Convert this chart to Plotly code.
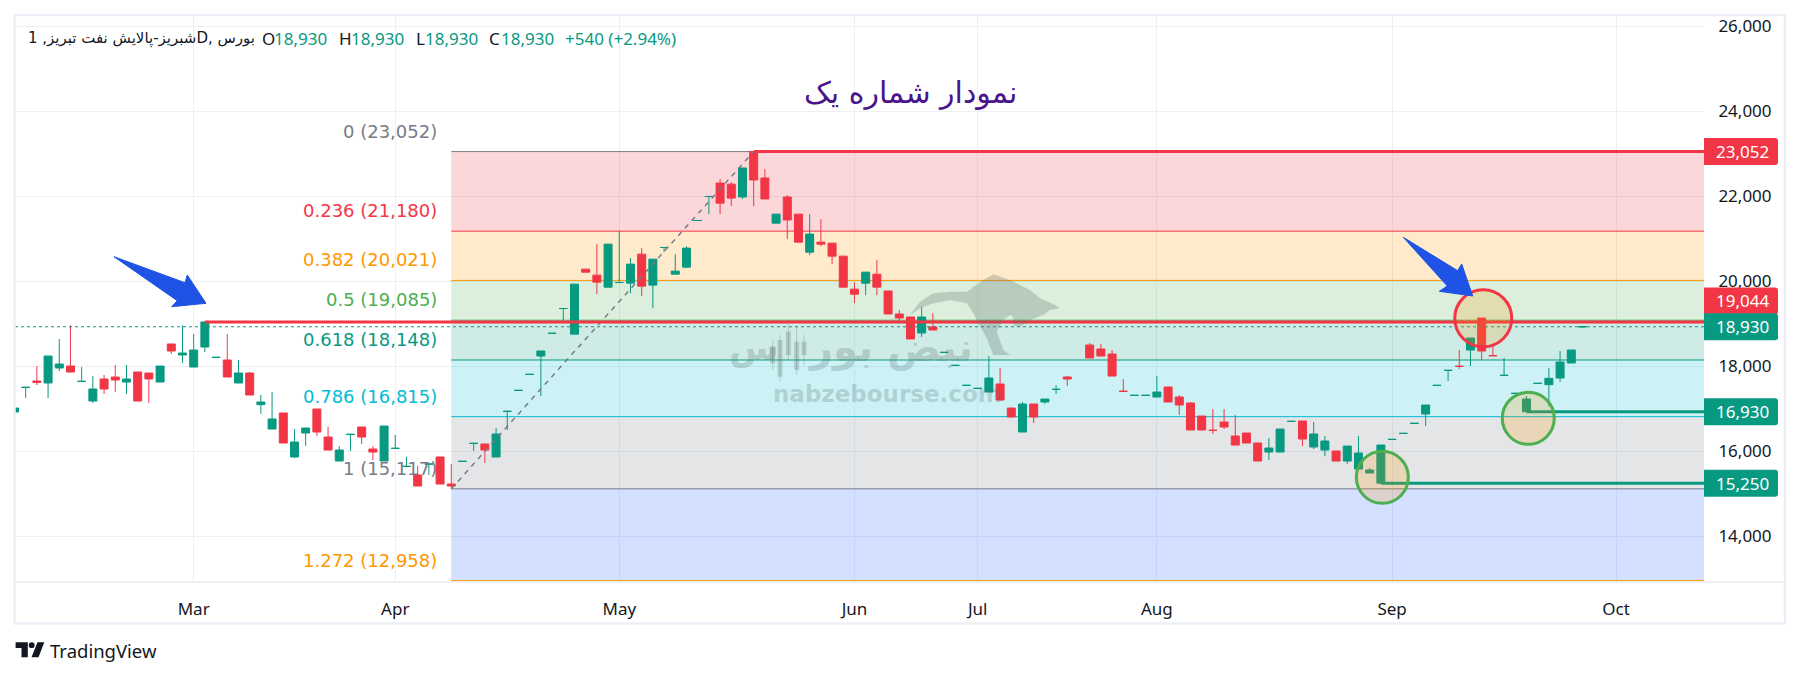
import plotly.graph_objects as go

# ---------- data ----------
opens = [16925,17504,17654,17607,17960,18007,17645,17183,17701,17748,
         17630,17866,17842,17630,18525,18266,17983,18454,18210,18148,
         17607,17842,17097,16525,16901,15866,16430,16995,16336,15772,
         16398,16572,16054,15772,16069,15645,15442,15700,15866,15230,
         15763,16186,16172,15866,16939,17433,17810,18242,18775,19359,
         18757,20286,20145,19862,19971,19957,20639,19910,20795,20168,
         20333,21430,21995,22310,22286,21984,23052,22431,21368,21984,
         21580,20686,20921,20898,20592,19815,19957,20168,19772,19231,
         19160,18784,18925,18327,18021,17551,17480,17395,17583,17018,
         16454,17113,17160,17457,17748,None,18501,18407,18289,17412,
         17316,17316,17277,17513,17277,17136,16830,16494,16689,16360,
         16430,16195,15983,15983,16704,16713,16101,16030,16007,15771,
         15583,15489,15250,16280,16421,16657,16877,17551,17904,18000,
         18383,19136,18251,17786,17363,16930,17598,17568,17724,18077,
         18929]
highs = [17019,17505,18007,18242,18642,18964,17983,17772,17795,18030,
         18030,17866,17842,18007,18525,18964,18760,19044,18211,18760,
         18148,17866,17325,17395,16901,16525,16548,16995,16572,16125,
         16399,16572,16125,16595,16383,15866,15654,15701,15866,15701,
         15764,16187,16172,16548,16940,17434,17811,18360,18776,19360,
         19933,20286,20874,20874,21188,20545,20780,20521,20796,20639,
         20827,21431,21996,22404,22333,22666,23052,22643,21580,22031,
         21580,21580,21462,20898,20592,19980,20215,20498,19772,19325,
         19160,19396,19255,18328,18022,17552,17481,18242,17960,17018,
         17160,17113,17230,17552,17771,None,18548,18524,18383,17701,
         17317,17317,17771,17513,17324,17160,16830,16995,16995,16854,
         16430,16195,16313,16524,16705,16713,16689,16360,16007,16124,
         16360,15607,16148,16281,16422,16658,17089,17552,17905,18383,
         18666,19136,18477,18195,17364,17301,17599,17960,18360,18383,
         18930]
lows = [16925,17254,17560,17254,17889,17866,17645,17136,17348,17395,
        17348,17183,17136,17630,18289,18077,17983,18336,18210,17748,
        17607,17325,16878,16525,16195,15842,16125,16360,16030,15772,
        16007,16172,15795,15772,16069,15645,15183,15442,15230,15117,
        15763,16007,15725,15866,16501,17433,17810,17301,18775,19070,
        18757,20215,19698,19862,19971,19721,19655,19369,20686,20168,
        20309,21430,21580,21580,21768,21937,21768,21937,21368,20992,
        20921,20615,20827,20404,19862,19486,19674,19674,19231,19062,
        18643,18690,18854,18327,18021,17551,17480,17395,17183,16807,
        16454,16665,17113,17348,17536,None,18195,18242,17771,17411,
        17316,17316,17277,17160,16854,16501,16501,16407,16524,16148,
        16195,15771,15795,15983,16704,16124,16054,15889,15771,15701,
        15583,15489,15250,16280,16421,16657,16595,17551,17654,17936,
        18007,18148,18250,17786,17363,16930,17598,17050,17630,18077,
        18929]
closes = [17019,17505,17623,18242,18054,17866,17646,17466,17466,17678,
          17701,17183,17701,18007,18360,18313,18383,19044,18211,17748,
          17842,17325,17160,16760,16195,16219,16548,16454,16030,16030,
          16399,16336,15983,16595,16070,15646,15183,15701,15230,15183,
          15764,16187,16030,16407,16940,17434,17811,18360,18776,19360,
          19933,20215,19980,20874,19972,20404,19886,20521,20796,20239,
          20780,21431,21996,21839,21957,22666,22384,21937,21580,21443,
          20921,21110,20874,20592,19862,19698,20215,19862,19231,19137,
          18643,19160,18854,18328,18022,17552,17481,17724,17207,16807,
          17113,16807,17230,17458,17701,None,18195,18242,17771,17411,
          17317,17317,17395,17160,17089,16501,16501,16493,16571,16148,
          16195,15771,16077,16524,16705,16289,16407,16242,15771,16124,
          15960,15560,16148,16281,16422,16658,17089,17552,17905,17999,
          18666,18360,18250,17787,17364,17230,17599,17717,18101,18383,
          18930]
bars = list(range(len(opens)))

month_labels = ["Mar", "Apr", "May", "Jun", "Jul", "Aug", "Sep", "Oct"]
month_bars = [16, 34, 54, 75, 86, 102, 123, 143]
price_ticks = [14000, 16000, 18000, 20000, 22000, 24000, 26000]

fib_ratios = ["0", "0.236", "0.382", "0.5", "0.618", "0.786", "1", "1.272"]
fib_values = [23052, 21180, 20021, 19085, 18148, 16815, 15117, 12958]
fib_line_colors = ["#787B86", "#F23645", "#FF9800", "#4CAF50", "#089981", "#00BCD4", "#787B86", "#FF9800"]
fib_fills = ["rgba(242,54,69,.2)", "rgba(255,152,0,.2)", "rgba(76,175,80,.2)", "rgba(8,153,129,.2)",
             "rgba(0,188,212,.2)", "rgba(120,123,134,.2)", "rgba(41,98,255,.2)"]
fib_start_bar = 39

ray_values = [23052, 19044, 16930, 15250]
ray_starts = [66, 17, 135, 122]
ray_colors = ["#F23645", "#F23645", "#089981", "#089981"]

axis_label_values = [23052, 19044, 18930, 16930, 15250]
axis_label_colors = ["#F23645", "#F23645", "#089981", "#089981", "#089981"]
axis_label_shift = [0, 21, 0, 0, 0]

circle_bars = [131.14, 135.16, 122.13]
circle_values = [19129, 16776, 15388]
circle_radii = [28.5, 26, 26]
circle_colors = ["#F23645", "#4CAF50", "#4CAF50"]

UP, DOWN = "#089981", "#F23645"
L, R, T, B = 15, 1704, 16, 582


def px(x):
    return (x - L) / (R - L)


def py(y):
    return (B - y) / (B - T)


def poly(points):
    return "M " + " L ".join(f"{px(x):.5f},{py(y):.5f}" for x, y in points) + " Z"


fig = go.Figure()
fig.add_trace(go.Candlestick(
    x=bars, open=opens, high=highs, low=lows, close=closes,
    increasing=dict(line=dict(color=UP, width=1), fillcolor=UP),
    decreasing=dict(line=dict(color=DOWN, width=1), fillcolor=DOWN),
    whiskerwidth=0, hoverinfo="skip", showlegend=False))
fig.add_trace(go.Scatter(
    x=[fib_start_bar, 66], y=[fib_values[-2], fib_values[0]], mode="lines",
    line=dict(color="#787B86", width=1.5, dash="5px,5px"), hoverinfo="skip", showlegend=False))

shapes = []
# fib bands and level lines
for i, col in enumerate(fib_fills):
    shapes.append(dict(type="rect", xref="x", yref="y", layer="between", x0=fib_start_bar, x1=151,
                       y0=fib_values[i], y1=fib_values[i + 1], fillcolor=col, line_width=0))
for v, col in zip(fib_values, fib_line_colors):
    shapes.append(dict(type="line", xref="x", yref="y", layer="between", x0=fib_start_bar, x1=151,
                       y0=v, y1=v, line=dict(color=col, width=1)))
# last price dotted line
shapes.append(dict(type="line", xref="paper", yref="y", x0=0, x1=1, y0=18930, y1=18930,
                   line=dict(color="#089981", width=1, dash="dot")))
# horizontal rays
for v, s, col in zip(ray_values, ray_starts, ray_colors):
    shapes.append(dict(type="line", xref="x", yref="y", x0=s, x1=151, y0=v, y1=v,
                       line=dict(color=col, width=3)))
# circles
for b, v, r, col in zip(circle_bars, circle_values, circle_radii, circle_colors):
    shapes.append(dict(type="circle", xref="x", yref="y", xsizemode="pixel", ysizemode="pixel",
                       xanchor=b, yanchor=v, x0=-r, x1=r, y0=-r, y1=r,
                       fillcolor="rgba(255,152,0,.2)", line=dict(color=col, width=3)))
# blue arrows
arrow_1 = [(114, 256.7), (185, 282.7), (187.3, 275), (206, 303.3), (171.7, 306.7), (177.3, 300.7)]
arrow_2 = [(1403.3, 237.3), (1457.7, 270.7), (1461.7, 264), (1472.7, 296), (1439.3, 291.3), (1447.3, 286)]
for a in (arrow_1, arrow_2):
    shapes.append(dict(type="path", xref="paper", yref="paper", path=poly(a),
                       fillcolor="#1E53E5", line=dict(color="#1E53E5", width=1)))
# watermark: bull
WM = "rgba(90,110,105,.27)"
bull = [(570, 165), (600, 125), (640, 100), (700, 95), (740, 95), (790, 60), (820, 43), (870, 60), (930, 90),
        (960, 115), (1005, 135), (1020, 145), (990, 150), (970, 165), (930, 180), (900, 200), (880, 195),
        (880, 170), (870, 165), (850, 180), (830, 215), (850, 270), (870, 285), (820, 285), (800, 235),
        (770, 180), (760, 160), (740, 130), (690, 120), (640, 130), (600, 145)]
shapes.append(dict(type="path", xref="paper", yref="paper", line_width=0, fillcolor=WM,
                   path=poly([(720 + a / 3, 260 + b / 3) for a, b in bull])))
# watermark: mini candles
for a, t0, b0, t1, b1 in [(158, 240, 330, 262, 310), (180, 225, 365, 240, 350), (205, 190, 300, 215, 285),
                          (230, 200, 345, 245, 330), (252, 225, 315, 245, 285)]:
    x = 720 + a / 3
    shapes.append(dict(type="line", xref="paper", yref="paper", x0=px(x), x1=px(x),
                       y0=py(260 + t0 / 3), y1=py(260 + b0 / 3), line=dict(color=WM, width=1)))
    shapes.append(dict(type="rect", xref="paper", yref="paper", x0=px(x - 2.5), x1=px(x + 2.5),
                       y0=py(260 + t1 / 3), y1=py(260 + b1 / 3), line_width=0, fillcolor=WM))
# axis labels (boxes)
for v, col, s in zip(axis_label_values, axis_label_colors, axis_label_shift):
    shapes.append(dict(type="path", xref="paper", yref="y", xsizemode="pixel", ysizemode="pixel",
                       xanchor=1, yanchor=v,
                       path=f"M 0,{s-13.5} H 71 Q 74,{s-13.5} 74,{s-10.5} V {s+10.5} Q 74,{s+13.5} 71,{s+13.5} H 0 Z",
                       fillcolor=col, line_width=0))
# frame and time-axis separator
shapes.append(dict(type="rect", xref="paper", yref="paper", x0=px(14.5), x1=px(1785), y0=py(15), y1=py(623.5),
                   line=dict(color="#EEF0F7", width=2.5), fillcolor="rgba(0,0,0,0)"))
shapes.append(dict(type="line", xref="paper", yref="paper", x0=px(15), x1=px(1784), y0=py(582), y1=py(582),
                   line=dict(color="#E0E3EB", width=1)))
# TradingView mark
shapes.append(dict(type="path", xref="paper", yref="paper", line_width=0, fillcolor="#131722",
                   path=poly([(15.6, 642.3), (27.8, 642.3), (27.8, 657.3), (21.5, 657.3), (21.5, 648), (15.6, 648)])))
shapes.append(dict(type="circle", xref="paper", yref="paper", line_width=0, fillcolor="#131722",
                   x0=px(28.8), x1=px(34.6), y0=py(642.3), y1=py(648)))
shapes.append(dict(type="path", xref="paper", yref="paper", line_width=0, fillcolor="#131722",
                   path=poly([(37.5, 642.3), (44.3, 642.3), (38.5, 657.3), (31.5, 657.3)])))

ann = []


def note(text, x, y, size, color, family="Noto Sans", xa="left", ya="middle", **kw):
    ann.append(dict(text=text, x=px(x), y=py(y), xref="paper", yref="paper", xanchor=xa, yanchor=ya,
                    showarrow=False, font=dict(size=size, color=color, family=family),
                    borderpad=0, **kw))


# fib labels
for r, v, col in zip(fib_ratios, fib_values, fib_line_colors):
    ann.append(dict(text=f"{r} ({v:,})", x=fib_start_bar, y=v, xref="x", yref="y", xanchor="right", yanchor="middle",
                    xshift=-12, yshift=20.5, showarrow=False, font=dict(size=18, color=col, family="DejaVu Sans")))
# axis label texts
for v, s in zip(axis_label_values, axis_label_shift):
    ann.append(dict(text=f"{v:,}", x=px(1714), xref="paper", y=v, yref="y", xanchor="left", yanchor="middle",
                    yshift=s, showarrow=False, font=dict(size=17, color="white", family="Noto Sans")))
# legend row
note("شبریز-پالایش نفت تبریز, 1D, بورس", 27, 38, 15, "#131722", family="DejaVu Sans")
for letter, lx, vx in [("O", 261, 273), ("H", 338, 350), ("L", 415, 424), ("C", 488, 500)]:
    note(letter, lx, 38, 17, "#131722")
    note("18,930", vx, 38, 17, UP)
note("+540 (+2.94%)", 564, 38, 17, UP)
# title
note("نمودار شماره یک", 910, 93, 30, "#4A148C", family="DejaVu Sans", xa="center")
# watermark texts
note("<b>نبض بور</b>", 890, 348, 40, WM, family="DejaVu Sans", xa="center")
note("<b>س</b>", 754, 348, 36, WM, family="DejaVu Sans", xa="center")
note("<b>nabzebourse.com</b>", 887, 394, 23, WM, family="DejaVu Sans", xa="center")
# brand
note("TradingView", 49, 650, 18.5, "#131722", family="Noto Sans")

fig.update_layout(
    width=1800, height=677, autosize=False,
    margin=dict(l=L, r=1800 - R, t=T, b=677 - B, pad=0),
    paper_bgcolor="white", plot_bgcolor="white", showlegend=False, boxgap=0.286, boxgroupgap=0,
    shapes=shapes, annotations=ann, hovermode=False,
    xaxis=dict(range=[0.047, 150.85], tickmode="array", tickvals=month_bars, ticktext=month_labels,
               showgrid=True, gridcolor="#EDEFF3", gridwidth=1, zeroline=False, showline=False,
               rangeslider=dict(visible=False), ticks="outside", ticklen=12, tickcolor="rgba(0,0,0,0)",
               tickfont=dict(size=17, color="#131722", family="Noto Sans")),
    yaxis=dict(range=[12925, 26242], side="right", tickmode="array", tickvals=price_ticks,
               ticktext=[f"{p:,}" for p in price_ticks],
               showgrid=True, gridcolor="#EDEFF3", gridwidth=1, zeroline=False, showline=False,
               ticks="outside", ticklen=10, tickcolor="rgba(0,0,0,0)",
               tickfont=dict(size=17, color="#131722", family="Noto Sans")),
)

fig.write_html("out.html", config=dict(displayModeBar=False),
               post_script="document.body.style.margin='0';document.body.style.overflow='hidden';")
